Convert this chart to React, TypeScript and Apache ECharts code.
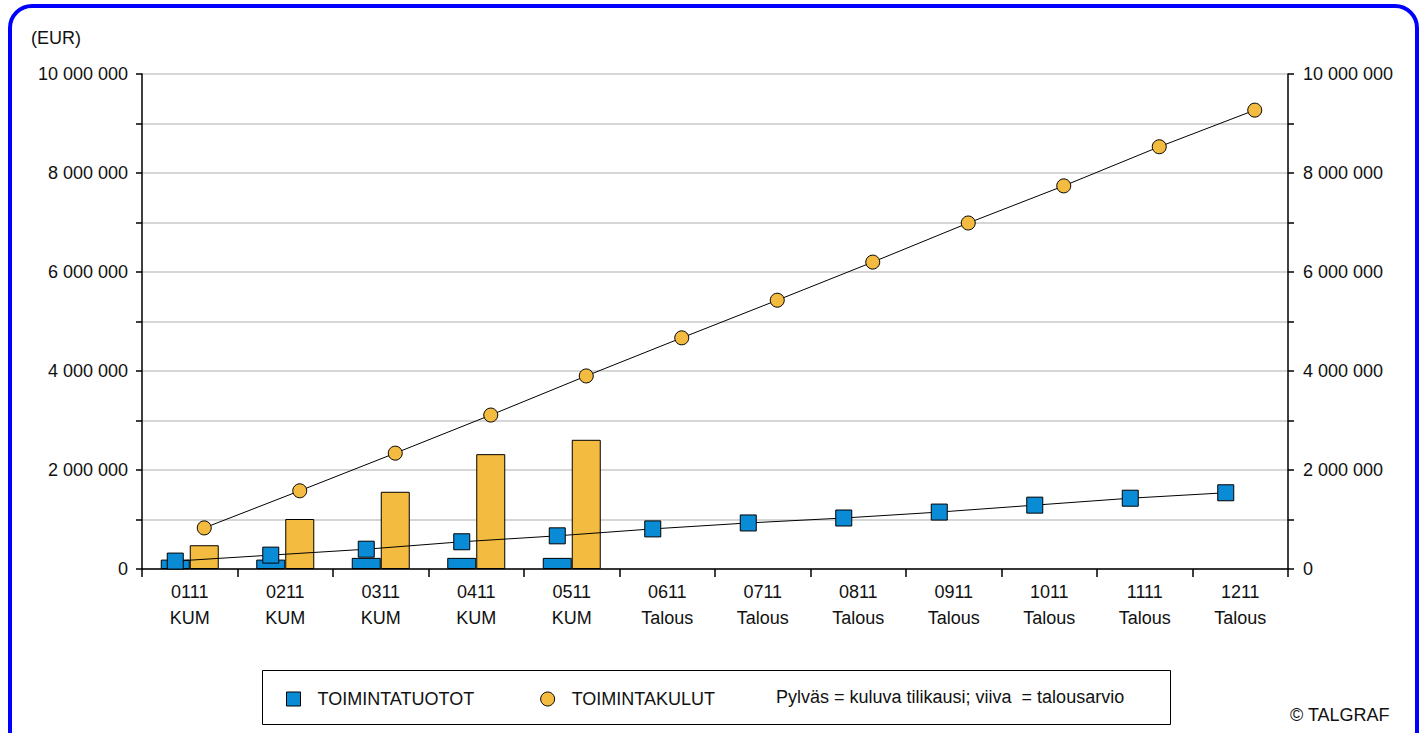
import React, { useEffect, useRef } from "react";
import * as echarts from "echarts";

const categories = ["0111\nKUM", "0211\nKUM", "0311\nKUM", "0411\nKUM", "0511\nKUM", "0611\nTalous", "0711\nTalous", "0811\nTalous", "0911\nTalous", "1011\nTalous", "1111\nTalous", "1211\nTalous"];
const incomeActual = [190000, 190000, 225000, 225000, 225000];
const costActual = [480000, 1010000, 1560000, 2320000, 2610000];
const incomeBudget = [160000, 280000, 400000, 550000, 670000, 810000, 930000, 1030000, 1150000, 1290000, 1430000, 1540000];
const costBudget = [830000, 1580000, 2340000, 3110000, 3900000, 4670000, 5430000, 6200000, 6990000, 7740000, 8530000, 9270000];
const SERIES_INCOME = "TOIMINTATUOTOT";
const SERIES_COST = "TOIMINTAKULUT";
const NOTE = "Pylväs = kuluva tilikausi; viiva  = talousarvio";

const BLUE = "#0a8bd6";
const ORANGE = "#f4bb41";
const FONT = "'Liberation Sans', Arial, sans-serif";

const GRID_LEFT = 142;
const GRID_RIGHT = 1288;
const BAR_W = 29;

function fmt(v: number) {
  return String(Math.round(v)).replace(/\B(?=(\d{3})+(?!\d))/g, " ");
}

export default function App() {
  const ref = useRef<HTMLDivElement>(null);
  useEffect(() => {
    if (!ref.current) return;
    const chart = echarts.init(ref.current, null, { renderer: "svg" });
    const catW = (GRID_RIGHT - GRID_LEFT) / categories.length;
    const off = BAR_W / 2 / catW;
    const yLabel = {
      fontFamily: FONT,
      fontSize: 18,
      color: "#111",
      formatter: (v: number) => (v % 2000000 === 0 ? fmt(v) : ""),
    };
    chart.setOption({
      animation: false,
      backgroundColor: "#fff",
      grid: { left: GRID_LEFT, right: 1425 - GRID_RIGHT, top: 74, bottom: 164 },
      legend: {
        left: 281,
        top: 685,
        z: 10,
        itemWidth: 14,
        itemHeight: 14,
        itemGap: 66,
        textStyle: { fontFamily: FONT, fontSize: 18, color: "#111", padding: [0, 0, 0, 12] },
        data: [
          { name: SERIES_INCOME, icon: "rect", itemStyle: { color: BLUE, borderColor: "#000", borderWidth: 1 } },
          { name: SERIES_COST, icon: "circle", itemStyle: { color: ORANGE, borderColor: "#000", borderWidth: 1 } },
        ],
      },
      xAxis: [
        {
          type: "category",
          data: categories,
          axisLine: { onZero: false, lineStyle: { color: "#000", width: 1.5 } },
          axisTick: { show: true, length: 8, lineStyle: { color: "#000", width: 1.5 } },
          axisLabel: { fontFamily: FONT, fontSize: 18, color: "#111", lineHeight: 26, margin: 10 },
        },
        { type: "value", min: -0.5, max: 11.5, show: false },
      ],
      yAxis: [
        {
          type: "value",
          min: 0,
          max: 10000000,
          interval: 1000000,
          position: "left",
          axisLine: { show: true, onZero: false, lineStyle: { color: "#000", width: 1.5 } },
          axisTick: { show: true, length: 6, lineStyle: { color: "#000", width: 1.5 } },
          axisLabel: { ...yLabel, margin: 14 },
          splitLine: { show: true, lineStyle: { color: "#c8c8c8", width: 1.5 } },
        },
        {
          type: "value",
          min: 0,
          max: 10000000,
          interval: 1000000,
          position: "right",
          axisLine: { show: true, onZero: false, lineStyle: { color: "#000", width: 1.5 } },
          axisTick: { show: true, length: 6, lineStyle: { color: "#000", width: 1.5 } },
          axisLabel: { ...yLabel, margin: 15 },
          splitLine: { show: false },
        },
      ],
      series: [
        {
          name: SERIES_INCOME,
          type: "bar",
          xAxisIndex: 0,
          yAxisIndex: 0,
          barWidth: BAR_W,
          barGap: "0%",
          data: incomeActual,
          itemStyle: { color: BLUE, borderColor: "#000", borderWidth: 1 },
        },
        {
          name: SERIES_COST,
          type: "bar",
          xAxisIndex: 0,
          yAxisIndex: 0,
          barWidth: BAR_W,
          barGap: "0%",
          data: costActual,
          itemStyle: { color: ORANGE, borderColor: "#000", borderWidth: 1 },
        },
        {
          name: SERIES_INCOME,
          type: "line",
          xAxisIndex: 1,
          yAxisIndex: 0,
          z: 5,
          data: incomeBudget.map((v, i) => [i - off, v]),
          symbol: "rect",
          symbolSize: 16,
          lineStyle: { color: "#000", width: 1 },
          itemStyle: { color: BLUE, borderColor: "#000", borderWidth: 1 },
        },
        {
          name: SERIES_COST,
          type: "line",
          xAxisIndex: 1,
          yAxisIndex: 0,
          z: 5,
          data: costBudget.map((v, i) => [i + off, v]),
          symbol: "circle",
          symbolSize: 14,
          lineStyle: { color: "#000", width: 1 },
          itemStyle: { color: ORANGE, borderColor: "#000", borderWidth: 1 },
        },
      ],
      graphic: [
        {
          type: "rect",
          z: -10,
          shape: { x: 10, y: 6, width: 1407, height: 780, r: 22 },
          style: { fill: "none", stroke: "#0000ff", lineWidth: 4 },
        },
        {
          type: "rect",
          z: 1,
          shape: { x: 262.5, y: 670.5, width: 908, height: 54 },
          style: { fill: "#fff", stroke: "#000", lineWidth: 1 },
        },
        {
          type: "text",
          z: 11,
          x: 776,
          y: 697,
          style: { text: NOTE, font: `18px ${FONT}`, fill: "#111", verticalAlign: "middle" },
        },
        {
          type: "text",
          z: 11,
          x: 31,
          y: 38,
          style: { text: "(EUR)", font: `18px ${FONT}`, fill: "#111", verticalAlign: "middle" },
        },
        {
          type: "text",
          z: 11,
          x: 1290,
          y: 715,
          style: { text: "© TALGRAF", font: `18px ${FONT}`, fill: "#111", verticalAlign: "middle" },
        },
      ],
    });
    return () => chart.dispose();
  }, []);
  return <div ref={ref} style={{ position: "fixed", left: 0, top: 0, width: 1425, height: 733 }} />;
}
